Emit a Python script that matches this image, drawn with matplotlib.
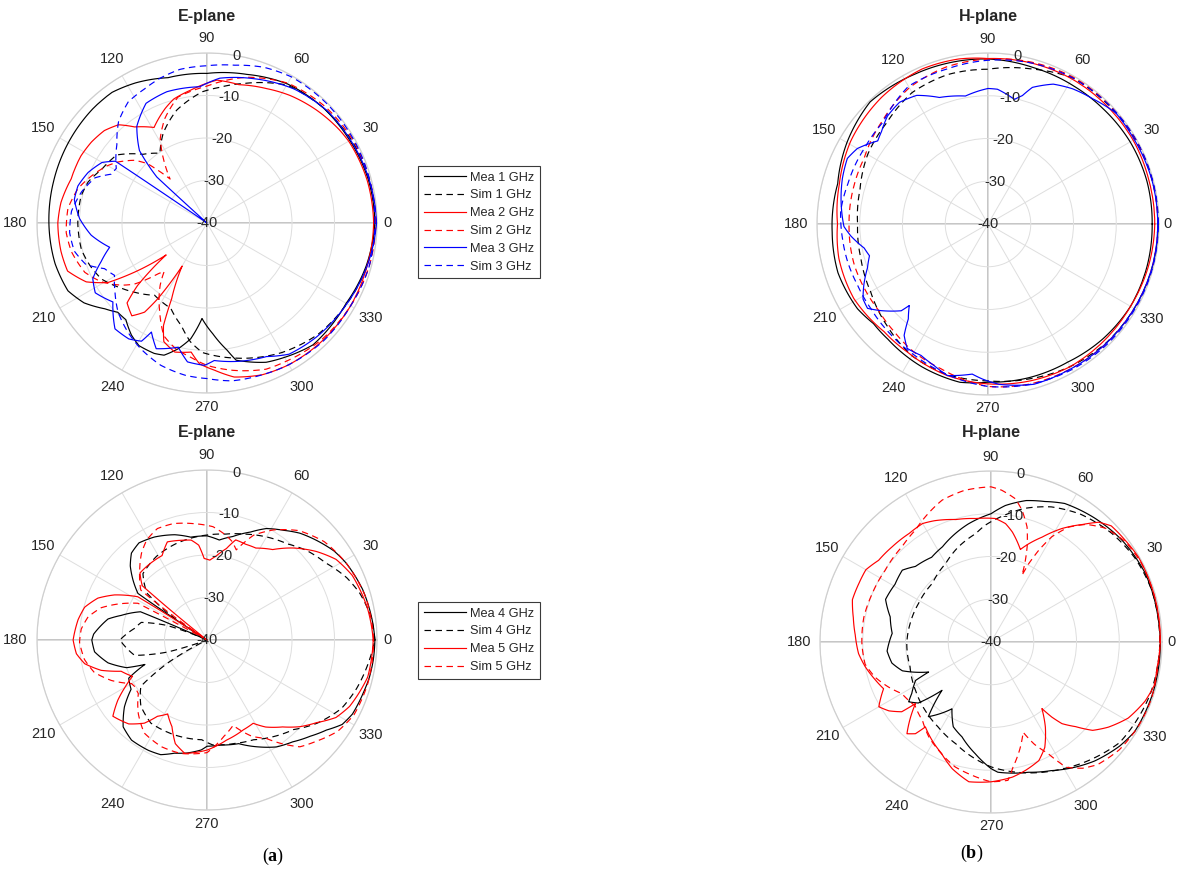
import numpy as np
import matplotlib
matplotlib.use('Agg')
import matplotlib.pyplot as plt
from matplotlib.lines import Line2D

plt.rcParams['font.family'] = ['Liberation Sans', 'DejaVu Sans']
plt.rcParams['mathtext.fontset'] = 'custom'
plt.rcParams['mathtext.rm'] = 'Liberation Serif'
plt.rcParams['mathtext.bf'] = 'Liberation Serif:bold'

# ---------------- data (angle in deg, level in dB) ----------------
THETA_TICKS = [0, 30, 60, 90, 120, 150, 180, 210, 240, 270, 300, 330]
R_TICKS = [-40, -30, -20, -10, 0]

# Panel (a) top : E-plane, 1-3 GHz
ae_mea1_ang = [0,15,30,45,60,75,90,105,117,126,135,150,165,180,195,206,213,220,225,230,236,241,248,252,257,262,267,273,279,282,293,300,311,330,345,360]
ae_mea1_db = [-0.5,-0.7,-1.2,-1.5,-2.2,-3.8,-4.8,-4.6,-3.0,-2.0,-2.0,-2.3,-2.6,-2.8,-3.0,-3.6,-5.5,-8.6,-10.3,-10.3,-8.2,-7.0,-6.9,-7.3,-9.6,-12.5,-17.5,-13.9,-9.7,-7.0,-4.4,-3.5,-2.0,-2.2,-1.2,-0.5]

ae_sim1_ang = [0,15,30,45,60,75,85,92,105,116,124,133,143,153,161,168,180,192,200,208,217,224,234,247,256,262,268,282,300,315,330,345,360]
ae_sim1_db = [-0.5,-0.5,-0.8,-1.5,-2.5,-6.0,-8.0,-9.1,-12.5,-16.5,-20.2,-17.9,-13.4,-12.2,-10.4,-9.7,-9.6,-9.8,-10.7,-11.9,-14.6,-16.5,-19.0,-18.2,-15.1,-11.8,-9.5,-7.5,-4.8,-3.0,-2.0,-1.0,-0.5]

ae_mea2_ang = [0,15,30,35,46,57,66,77,86,97,105,110,119,127,132,138,145,152,162,172,180,191,199,206,211,215,218,222,225,231,235,237,240,245,247,250,256,263,267,273,280,290,300,315,330,345,360]
ae_mea2_db = [-0.8,-1.0,-1.5,-1.9,-3.0,-4.2,-5.4,-6.6,-6.3,-8.5,-9.8,-11.3,-14.3,-11.7,-8.9,-7.5,-6.8,-6.4,-6.4,-5.3,-4.9,-5.0,-5.3,-8.4,-12.8,-21.2,-27.8,-18.0,-13.4,-11.9,-14.4,-18.8,-28.3,-20.3,-13.8,-10.3,-8.7,-9.4,-6.8,-5.3,-3.2,-2.0,-1.5,-1.2,-1.0,-1.0,-0.8]

ae_sim2_ang = [0,30,45,60,75,90,103,112,119,126,130,133,135,139,145.6,150,158,165,174,184,192,202,209,216,220,226,228.5,233,242,249,256,263,270,280,292,300,315,330,345,360]
ae_sim2_db = [-0.3,-0.5,-1.0,-2.0,-4.5,-7.8,-9.6,-13.5,-17.3,-23.3,-26.5,-23.0,-20.3,-17.5,-14.6,-13.0,-10.6,-8.6,-7.1,-6.8,-7.4,-9.0,-11.5,-15.1,-17.6,-23.4,-24.8,-21.7,-16.3,-11.6,-9.5,-8.2,-6.5,-4.8,-2.9,-2.5,-1.5,-1.0,-0.5,-0.3]

ae_mea3_ang = [0,15,30,43,57,72,85,93,107,117,126,133,137.5,137.8,138.2,145.5,146,150,157,164,170,178,186,194,200,206,212,220,229,236,241,243,248,257,262,269,273,283,294,302,314,330,345,360]
ae_mea3_db = [-0.1,-0.5,-1.0,-1.3,-2.4,-4.3,-5.8,-7.9,-7.7,-8.4,-11.9,-16.7,-24.0,-33.0,-45,-45,-14.0,-11.5,-9.6,-8.4,-8.3,-10.0,-12.6,-16.4,-13.5,-10.1,-9.0,-11.1,-7.0,-7.1,-8.2,-11.2,-8.1,-10.0,-7.0,-6.5,-7.6,-6.6,-5.6,-3.6,-2.8,-2.0,-1.0,-0.1]

ae_sim3_ang = [0,30,45,60,70,80,90,100,108,115,123,131,139,149,153,158,166,175,184,192,199,204,209.5,217,225,234,242,252,262,270,279,290,300,315,330,345,360]
ae_sim3_db = [-0.5,-0.3,-0.2,-0.3,-1.0,-2.3,-3.0,-3.3,-4.2,-5.2,-6.0,-8.3,-11.9,-15.1,-14.7,-11.6,-9.6,-8.0,-7.6,-8.1,-9.9,-13.6,-15.0,-12.9,-10.4,-8.3,-6.6,-4.8,-3.8,-3.4,-2.4,-2.0,-1.5,-1.0,-1.0,-0.5,-0.5]

# Panel (b) top : H-plane, 1-3 GHz
ah_mea1_ang = [0,15,30,45,58,74,90,105,116,134,150,165,183,198,213,221,229,245,260,270,285,300,315,330,345,360]
ah_mea1_db = [-1.6,-1.5,-1.6,-1.9,-2.0,-1.9,-1.4,-1.2,-1.0,-0.3,-1.9,-3.6,-3.5,-3.1,-3.6,-4.5,-4.3,-3.2,-2.4,-3.0,-2.8,-2.7,-2.0,-1.5,-1.5,-1.6]

ah_sim1_ang = [0,30,60,74,90,105,120,135,150,165,180,195,210,225,240,255,270,285,300,315,330,345,360]
ah_sim1_db = [-0.2,-0.3,-0.5,-2.3,-3.8,-3.8,-4.5,-6.5,-7.5,-9.0,-9.5,-9.2,-8.3,-6.5,-4.4,-3.5,-3.3,-2.5,-1.5,-0.8,-0.5,-0.3,-0.2]

ah_mea2_ang = [0,15,30,45,60,75,90,100,113,130,149,165,180,193,209,226,238,255,270,285,300,315,330,345,360]
ah_mea2_db = [-1.0,-1.0,-0.8,-0.8,-0.8,-1.0,-1.3,-0.8,-0.6,-1.3,-2.5,-4.0,-4.8,-4.2,-4.1,-5.0,-4.6,-3.3,-2.6,-2.0,-1.5,-1.5,-1.5,-1.2,-1.0]

ah_sim2_ang = [0,30,60,75,90,105,120,136,152,164,180,197,208,218,229,240,252,270,285,300,315,330,345,360]
ah_sim2_db = [-0.3,-0.2,-0.3,-0.8,-1.4,-2.0,-3.2,-5.5,-7.2,-7.4,-7.5,-7.3,-7.4,-7.4,-6.6,-5.4,-4.4,-2.0,-1.3,-1.0,-0.7,-0.5,-0.3,-0.3]

ah_mea3_ang = [0,15,30,41,50,58,65,72,75,78,82,86,90,94,100,111,119,126,133,139,143,150,155,162.5,171,181,185,191,195,200,206,211,215,219,225,226,230,233,237,243,249,255,264,268,274,286,298,315,330,345,360]
ah_mea3_db = [-0.3,-0.3,-0.5,-0.4,-1.8,-2.7,-3.9,-6.4,-8.9,-10.2,-9.3,-8.4,-8.3,-8.8,-9.6,-8.3,-5.6,-4.8,-5.5,-7.0,-7.7,-4.7,-3.7,-4.3,-5.2,-6.3,-7.8,-10.5,-11.3,-10.0,-7.7,-5.9,-5.6,-7.8,-11.3,-13.5,-11.0,-7.4,-5.3,-5.5,-4.6,-3.3,-4.7,-3.7,-2.4,-1.0,-1.0,-0.7,-0.5,-0.3,-0.3]

ah_sim3_ang = [0,30,60,75,90,105,120,136,148,164,175,186,195,205,216,228,241,255,270,285,300,315,330,345,360]
ah_sim3_db = [-0.1,-0.1,-0.5,-1.0,-1.7,-2.5,-2.8,-5.8,-6.1,-5.9,-5.4,-5.8,-6.0,-6.3,-6.2,-5.6,-4.8,-3.5,-2.0,-1.2,-0.7,-0.4,-0.3,-0.1,-0.1]

# Panel (a) bottom : E-plane, 4-5 GHz
be_mea4_ang = [0,6,18,29,35,42,49,55,62,68,76,83,90,99,107,117,125,131,136,141,146,147.5,156,157,164,168,177,180,186,193,199,201.5,206,213,219,226,233,242,248,254,260,267,270,277,287,296,303,310,317,323,328,333,341,347,353,360]
be_mea4_db = [-0.5,-0.8,-1.5,-2.6,-3.5,-5.1,-6.7,-8.5,-10.3,-12.6,-14.9,-16.3,-15.5,-15.5,-14.1,-12.8,-12.1,-12.9,-14.9,-17.6,-20.4,-45,-45,-23.0,-19.0,-16.2,-13.3,-12.9,-13.4,-16.1,-20.0,-24.3,-19.5,-18.7,-15.0,-11.6,-10.5,-10.6,-10.9,-12.3,-13.0,-14.1,-15.0,-15.1,-14.5,-12.0,-10.0,-8.7,-6.8,-4.8,-2.5,-1.6,-1.2,-0.8,-0.6,-0.5]

be_sim4_ang = [0,8,17,24,33,42,50,60,70,80,90,100,108,121,134,142,146,148,156,160,165,171,180,192,197,200,206,210,215,225,236,251,267,273,285,295,304,314,323,333,342,353,360]
be_sim4_db = [-0.5,-1.0,-2.4,-4.0,-6.7,-8.5,-10.5,-12.0,-13.5,-14.7,-15.3,-15.8,-16.2,-17.0,-18.3,-22.0,-30.0,-45,-45,-30.0,-24.0,-22.7,-19.5,-22.6,-30.4,-45,-45,-30.0,-21.0,-18.0,-16.4,-16.4,-16.5,-15.3,-14.8,-14.1,-12.5,-10.7,-7.5,-4.5,-3.0,-1.5,-0.5]

be_mea5_ang = [0,11,24,32,39,47,54,62,68,74,78,84,88,92,95,99,103,112,118,128,135,140,141.5,147,148,154,159,165,171,180,186,191,196,200,206,210,214,219,227,233,237,242,248,253,259,270,281,292,299,304,311,317,323,329,335,347,360]
be_mea5_db = [-0.9,-1.5,-2.6,-4.2,-6.9,-10.4,-13.7,-15.5,-15.7,-15.5,-18.0,-20.2,-21.2,-20.8,-17.6,-16.2,-15.9,-15.1,-17.5,-17.6,-17.7,-20.1,-45,-45,-20.8,-15.8,-12.5,-10.2,-9.3,-8.5,-9.1,-10.7,-14.1,-18.5,-20.5,-17.7,-14.7,-11.5,-13.0,-15.5,-18.6,-20.3,-18.0,-14.5,-12.8,-14.1,-16.0,-17.2,-17.6,-15.3,-12.9,-10.1,-7.7,-4.6,-3.0,-1.2,-0.9]

be_sim5_ang = [0,15,29,40,50,59,66,72,76,80,87,97,106,114,121,127,134,143,146,151,152,158,163,169,175,181,189,196,203,210,213,218,227,236,247,257,270,280,287,295,301,306,311,317,325,333,345,360]
be_sim5_db = [-0.8,-1.3,-2.6,-4.0,-6.4,-9.8,-13.0,-17.7,-16.0,-14.9,-13.3,-12.4,-11.5,-11.3,-12.5,-14.4,-17.2,-20.5,-45,-45,-21.6,-17.4,-14.0,-11.5,-10.3,-10.0,-10.8,-12.4,-15.6,-19.5,-19.8,-19.5,-16.3,-13.6,-12.7,-12.6,-13.5,-17.0,-19.0,-15.0,-13.0,-9.8,-6.7,-5.0,-2.5,-1.2,-0.8,-0.8]

# Panel (b) bottom : H-plane, 4-5 GHz
bh_mea4_ang = [0,7,24,38,50,62,69,76,84,90,101,117,125,135,141,149,158,166,175,185,192,198,205.7,207,213,216,220,224.6,230,239.7,246,253,262,270,273,286,295,304,311,321,328,343,360]
bh_mea4_db = [-0.4,-0.5,-0.5,-1.2,-2.2,-3.3,-4.8,-5.9,-7.9,-10.0,-11.9,-15.0,-15.8,-15.0,-13.3,-13.8,-13.4,-15.7,-16.8,-15.6,-16.3,-18.2,-23.8,-20.2,-17.9,-16.2,-17.8,-23.9,-17.2,-21.9,-18.3,-16.8,-13.6,-10.4,-9.5,-8.3,-6.8,-4.7,-3.1,-1.3,-0.4,-0.3,-0.4]

bh_sim4_ang = [0,18,30,42,55,66,76,84,93,98,109,120,135,152,167,181,197,213,226,238,251,261,270,276,299,322,342,360]
bh_sim4_db = [-0.5,-0.5,-1.0,-2.0,-3.5,-5.4,-7.8,-10.2,-12.7,-14.4,-16.5,-18.8,-20.6,-20.8,-20.6,-20.3,-20.2,-19.0,-17.8,-16.6,-14.8,-12.7,-10.8,-9.8,-6.0,-1.8,-0.8,-0.5]

bh_mea5_ang = [0,14,30,37,44,48,52,58,64,69,72.4,79,83,88,97,106,115,120,127,136,144,150,156,163,170,177,185,191,198,203.5,210,214,218,219.2,223,227.5,230.5,232.3,239,246,253,261,270,279,285,292,297,302.6,307.4,309,311,315,319,324,331,339,345,351,360]
bh_mea5_db = [-0.4,-0.3,-0.2,-0.6,-0.9,-2.3,-5.1,-8.7,-12.7,-15.4,-17.3,-13.8,-12.1,-11.1,-10.9,-10.2,-8.7,-8.0,-8.2,-7.9,-7.5,-6.2,-6.2,-6.1,-7.3,-8.2,-8.9,-10.0,-11.5,-12.6,-9.7,-11.2,-13.5,-17.2,-14.3,-10.9,-12.2,-14.9,-13.2,-11.5,-9.0,-6.9,-7.3,-8.0,-8.9,-10.1,-12.3,-16.4,-20.4,-17.4,-14.7,-12.0,-8.5,-6.1,-3.3,-1.4,-0.5,-0.7,-0.4]

bh_sim5_ang = [0,15,28,37,45,51,56,60,62.5,64.3,65.1,66.7,69.2,72.6,76.8,80.4,86,90,100,109,118,124,133,146,158,169,181,190,197,204,210,220,229,237,244,254,262,270,277,280,285,289.6,293,297,301,306,311,320,330,340,349,360]
bh_sim5_db = [-0.5,-0.3,-0.3,-0.8,-2.3,-4.6,-7.6,-11.6,-15.8,-19.7,-22.8,-20.0,-16.2,-11.8,-8.3,-6.0,-4.4,-3.7,-4.0,-4.9,-7.0,-8.4,-9.5,-10.1,-10.0,-9.7,-9.8,-10.1,-11.7,-13.9,-15.9,-16.8,-15.6,-13.4,-11.9,-9.6,-8.5,-7.3,-7.4,-10.3,-14.0,-17.6,-14.0,-10.8,-5.8,-3.5,-2.0,-0.8,-0.3,-0.2,-0.5,-0.5]

legend_top = ['Mea 1 GHz', 'Sim 1 GHz', 'Mea 2 GHz', 'Sim 2 GHz', 'Mea 3 GHz', 'Sim 3 GHz']
legend_bot = ['Mea 4 GHz', 'Sim 4 GHz', 'Mea 5 GHz', 'Sim 5 GHz']
titles = ['E-plane', 'H-plane', 'E-plane', 'H-plane']

# ---------------- styling ----------------
BLACK, RED, BLUE = '#000000', '#ff0000', '#0000ff'
LW = 0.85
DASH = (5.5, 3.8)
TXT = '#262626'
FS = 10.5

W, H = 1178, 873
fig = plt.figure(figsize=(W / 100, H / 100), dpi=100)
fig.patch.set_facecolor('white')

# (center x, center y, radius) in pixels
geom = [(207, 223, 170), (988, 224, 171), (207, 640, 170), (991, 642, 171)]
# distance (px) of each angle label's centre from the plot centre
LABEL_DIST = {0: 180, 90: 185, 180: 192, 270: 184}


def make_axes(cx, cy, R):
    ax = fig.add_axes([(cx - R) / W, 1 - (cy + R) / H, 2 * R / W, 2 * R / H],
                      projection='polar')
    ax.set_ylim(0, 40)
    ax.set_yticks([t + 40 for t in R_TICKS])
    ax.set_yticklabels([])
    ax.set_xticks(np.deg2rad(THETA_TICKS))
    ax.set_xticklabels([])
    ax.grid(True, color='#dedede', lw=0.7)
    ax.spines['polar'].set_color('#cfcfcf')
    ax.spines['polar'].set_linewidth(0.9)
    ax.tick_params(axis='both', length=0)
    for t in (0, 90, 180, 270):
        ax.plot(np.deg2rad([t, t]), [0, 40], color='#b5b5b5', lw=1.1, zorder=1)
    for t in R_TICKS:
        ax.text(np.deg2rad(80), t + 40, str(t), ha='center', va='center',
                fontsize=FS, color=TXT, zorder=6)
    for t in THETA_TICKS:
        d = LABEL_DIST.get(t, 189)
        ax.text(np.deg2rad(t), 40 * d / R, str(t), ha='center', va='center',
                fontsize=FS, color=TXT, clip_on=False)
    return ax


def curve(ax, ang, db, color, dashed):
    th = np.deg2rad(np.asarray(ang, dtype=float))
    r = np.clip(np.asarray(db, dtype=float) + 40, 0, None)
    kw = dict(color=color, lw=LW, zorder=3)
    if dashed:
        kw['dashes'] = DASH
    ln, = ax.plot(th, r, **kw)
    # draw each segment along the polar grid (arc-wise), as polar plots do
    ln.get_path()._interpolation_steps = 24


axes = [make_axes(*g) for g in geom]

series = [
    [(ae_mea1_ang, ae_mea1_db, BLACK, False), (ae_sim1_ang, ae_sim1_db, BLACK, True),
     (ae_mea2_ang, ae_mea2_db, RED, False), (ae_sim2_ang, ae_sim2_db, RED, True),
     (ae_mea3_ang, ae_mea3_db, BLUE, False), (ae_sim3_ang, ae_sim3_db, BLUE, True)],
    [(ah_mea1_ang, ah_mea1_db, BLACK, False), (ah_sim1_ang, ah_sim1_db, BLACK, True),
     (ah_mea2_ang, ah_mea2_db, RED, False), (ah_sim2_ang, ah_sim2_db, RED, True),
     (ah_mea3_ang, ah_mea3_db, BLUE, False), (ah_sim3_ang, ah_sim3_db, BLUE, True)],
    [(be_mea4_ang, be_mea4_db, BLACK, False), (be_sim4_ang, be_sim4_db, BLACK, True),
     (be_mea5_ang, be_mea5_db, RED, False), (be_sim5_ang, be_sim5_db, RED, True)],
    [(bh_mea4_ang, bh_mea4_db, BLACK, False), (bh_sim4_ang, bh_sim4_db, BLACK, True),
     (bh_mea5_ang, bh_mea5_db, RED, False), (bh_sim5_ang, bh_sim5_db, RED, True)],
]

for ax, ser in zip(axes, series):
    for ang, db, c, d in ser:
        curve(ax, ang, db, c, d)

# titles
for (cx, cy, R), t, ty in zip(geom, titles, [17, 17, 433, 433]):
    fig.text(cx / W, 1 - ty / H, t, ha='center', va='center',
             fontsize=11.5, fontweight='bold', color=TXT)


def legend(labels, colors, top):
    handles = []
    for i, lab in enumerate(labels):
        kw = dict(color=colors[i // 2], lw=LW)
        if i % 2:
            kw['dashes'] = DASH
        handles.append(Line2D([], [], label=lab, **kw))
    leg = fig.legend(handles=handles, loc='upper left',
                     bbox_to_anchor=(418 / W, 1 - top / H),
                     bbox_transform=fig.transFigure, frameon=True, fancybox=False,
                     framealpha=1, edgecolor='#3a3a3a', fontsize=9.2,
                     handlelength=3.3, handletextpad=0.35, labelspacing=0.45,
                     borderpad=0.45, borderaxespad=0)
    leg.get_frame().set_linewidth(0.8)
    for txt in leg.get_texts():
        txt.set_color(TXT)


legend(legend_top, [BLACK, RED, BLUE], 166)
legend(legend_bot, [BLACK, RED], 602)

fig.text(273 / W, 1 - 856 / H, r'$\mathrm{(}\mathbf{a}\mathrm{)}$', ha='center', va='center', fontsize=13)
fig.text(972 / W, 1 - 853 / H, r'$\mathrm{(}\mathbf{b}\mathrm{)}$', ha='center', va='center', fontsize=13)

fig.savefig('out.png', dpi=100, facecolor='white')
